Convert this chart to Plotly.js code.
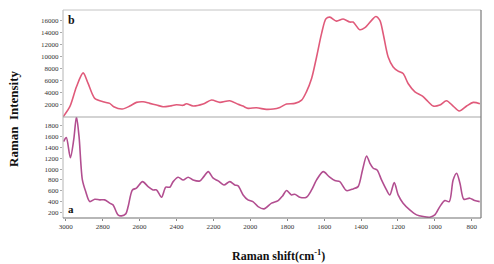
<!DOCTYPE html>
<html><head><meta charset="utf-8">
<script src="https://cdn.plot.ly/plotly-3.0.1.min.js"></script>
<style>html,body{margin:0;padding:0;background:#fff}#c{width:494px;height:264px}</style>
</head><body><div id="c"></div>
<script>
// Spectrum b (upper panel)
const shiftB = [3015,2978,2942,2906,2879,2843,2798,2762,2740,2694,2653,2617,2581,2545,2508,2473,2436,2400,2364,2346,2310,2256,2210,2165,2111,2066,2040,2012,1967,1913,1876,1840,1804,1759,1722,1696,1668,1641,1614,1590,1569,1533,1497,1461,1443,1407,1379,1343,1320,1298,1280,1253,1226,1199,1172,1145,1108,1067,1036,1009,973,937,901,868,828,792,756];
const intensityB = [0,1700,5000,7300,5550,3080,2520,2250,1700,1320,1810,2420,2520,2250,1980,1700,1810,2030,1930,2200,1810,2140,2800,2420,2690,2090,1800,1430,1530,1260,1320,1590,2140,2250,2800,4170,6370,9930,13800,16260,16520,15860,16200,15700,15700,14440,14770,15980,16630,15980,13780,9930,8280,7580,7190,5550,4170,3460,2520,1810,1980,2690,1810,990,1810,2420,2190];
// Spectrum a (lower panel)
const shiftA = [3012,2997,2975,2957,2942,2928,2910,2892,2870,2843,2816,2789,2762,2744,2717,2698,2675,2662,2639,2617,2584,2554,2527,2508,2481,2458,2436,2418,2391,2364,2337,2310,2274,2252,2228,2201,2174,2143,2111,2084,2066,2039,2013,1986,1958,1926,1885,1849,1825,1804,1777,1759,1732,1696,1668,1641,1605,1573,1542,1515,1479,1443,1416,1392,1370,1352,1334,1313,1289,1262,1244,1220,1199,1172,1136,1099,1063,1027,1000,973,946,922,901,882,864,843,811,784,757];
const intensityA = [1506,1580,1211,1537,1965,1597,801,586,402,446,434,434,373,342,158,139,176,310,617,649,770,678,617,617,483,667,667,770,851,801,851,801,783,862,954,833,783,709,770,709,691,525,434,402,310,268,373,421,507,605,525,538,483,483,617,801,954,862,789,770,605,636,678,985,1243,1108,1016,985,801,617,525,752,525,373,250,158,126,115,158,310,421,402,801,925,741,446,465,421,402];
const xTicks = [3000,2800,2600,2400,2200,2000,1800,1600,1400,1200,1000,800];
const yTicksB = [2000,4000,6000,8000,10000,12000,14000,16000];
const yTicksA = [200,400,600,800,1000,1200,1400,1600,1800];

const serif = 'Liberation Serif, Times New Roman, serif';
const tickFont = {family: serif, size: 7, color: '#333'};
const base = {showgrid: false, zeroline: false, showline: false};

const traces = [
  {x: shiftB, y: intensityB, xaxis: 'x2', yaxis: 'y2', type: 'scatter', mode: 'lines',
   line: {color: '#e05a7a', width: 1.6, shape: 'spline', smoothing: 0.8}, hoverinfo: 'none'},
  {x: shiftA, y: intensityA, xaxis: 'x', yaxis: 'y', type: 'scatter', mode: 'lines',
   line: {color: '#b24e90', width: 1.6, shape: 'spline', smoothing: 0.8}, hoverinfo: 'none'}
];

const split = 0.4856;
const layout = {
  width: 494, height: 264,
  margin: {l: 63, r: 13, t: 10, b: 46},
  paper_bgcolor: '#fff', plot_bgcolor: '#fff',
  showlegend: false,
  xaxis: Object.assign({}, base, {range: [3015, 750], tickvals: xTicks, ticks: 'outside', ticklen: 2,
    tickcolor: '#888', tickfont: tickFont, anchor: 'y'}),
  xaxis2: Object.assign({}, base, {range: [3015, 750], showticklabels: false, ticks: '', anchor: 'y2', matches: 'x'}),
  yaxis: Object.assign({}, base, {domain: [0, split], range: [100, 1960], tickvals: yTicksA, ticks: 'outside',
    ticklen: 2, tickcolor: '#aaa', tickfont: tickFont, anchor: 'x'}),
  yaxis2: Object.assign({}, base, {domain: [split, 1], range: [0, 17700], tickvals: yTicksB,
    ticktext: yTicksB.map(String), ticks: 'outside',
    ticklen: 2, tickcolor: '#aaa', tickfont: tickFont, anchor: 'x2'}),
  shapes: [
    {type: 'line', xref: 'paper', yref: 'paper', x0: 0, x1: 0, y0: 0, y1: 1, line: {color: '#b4b4b4', width: 1}},
    {type: 'line', xref: 'paper', yref: 'paper', x0: 0, x1: 1, y0: 1, y1: 1, line: {color: '#c4c4c4', width: 1}},
    {type: 'line', xref: 'paper', yref: 'paper', x0: 0, x1: 1, y0: split, y1: split, line: {color: '#a8a8a8', width: 1.2}},
    {type: 'line', xref: 'paper', yref: 'paper', x0: 0, x1: 1, y0: 0, y1: 0, line: {color: '#707070', width: 1.2}},
    {type: 'line', xref: 'paper', yref: 'paper', x0: 1, x1: 1, y0: 0, y1: 1, line: {color: '#7a7a7a', width: 1.2}}
  ],
  annotations: [
    {text: '<b>Raman  Intensity</b>', xref: 'paper', yref: 'paper', x: -0.12, y: 0.48, textangle: -90,
     xanchor: 'center', yanchor: 'middle',
     showarrow: false, font: {family: serif, size: 13, color: '#111'}},
    {text: '<b>Raman shift(cm<sup>-1</sup>)</b>', xref: 'paper', yref: 'paper', x: 0.515, y: -0.18,
     xanchor: 'center', yanchor: 'middle',
     showarrow: false, font: {family: serif, size: 12, color: '#111'}},
    {text: '<b>b</b>', xref: 'paper', yref: 'paper', x: 0.006, y: 0.952, xanchor: 'left', yanchor: 'middle',
     showarrow: false, font: {family: serif, size: 12, color: '#111'}},
    {text: '<b>a</b>', xref: 'paper', yref: 'paper', x: 0.008, y: 0.045, xanchor: 'left', yanchor: 'middle',
     showarrow: false, font: {family: serif, size: 11, color: '#111'}}
  ]
};
Plotly.newPlot('c', traces, layout, {staticPlot: true, displayModeBar: false});
</script></body></html>
